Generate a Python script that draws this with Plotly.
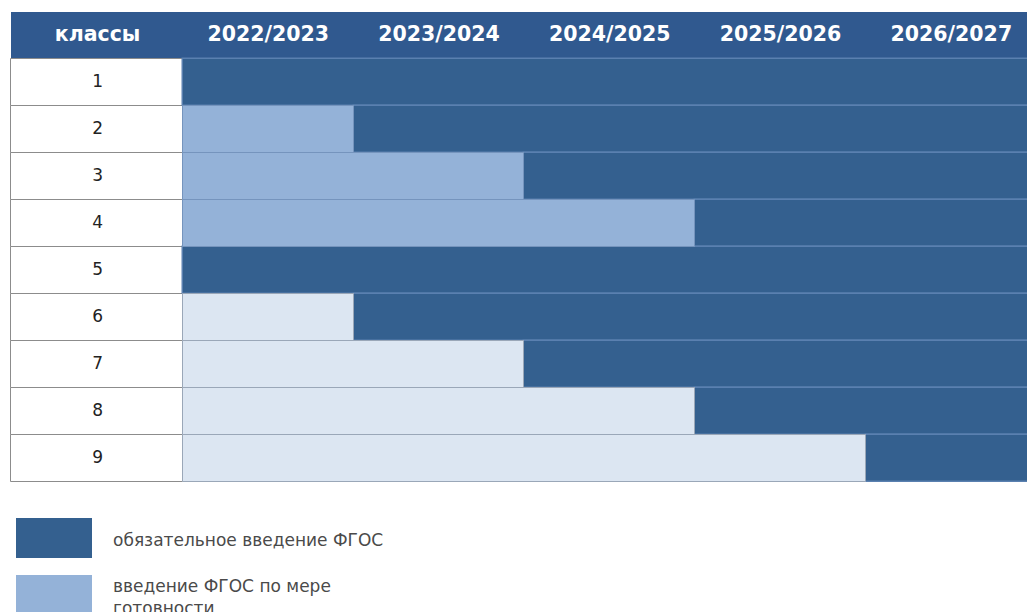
import plotly.graph_objects as go

# ---- data ----
classes = ["1", "2", "3", "4", "5", "6", "7", "8", "9"]
years = ["2022/2023", "2023/2024", "2024/2025", "2025/2026", "2026/2027"]
# number of school years with introduction "по мере готовности" before mandatory introduction
ready_years = [0, 1, 2, 3, 0, 1, 2, 3, 4]
ready_kind = ["none", "medium", "medium", "medium", "none", "light", "light", "light", "light"]
header_label = "классы"
legend_labels = ["обязательное введение ФГОС", "введение ФГОС по мере<br>готовности"]

# ---- styles ----
C_HEADER = "#30598f"
C_DARK = "#34608f"
C_MED = "#94b2d8"
C_LIGHT = "#dce6f2"
C_DARK_LINE = "#5a80b0"
FONT = "DejaVu Sans"

n_years = len(years)
row_y = [k + 1.5 for k in range(len(classes))]
col_left = -1.01

fig = go.Figure()

# header band
fig.add_trace(go.Bar(
    orientation="h", y=[0.5], base=[col_left], x=[n_years - col_left + 0.5], width=1,
    marker=dict(color=C_HEADER, line=dict(width=0)), hoverinfo="skip", showlegend=False))

# white class cells
fig.add_trace(go.Bar(
    orientation="h", y=row_y, base=[col_left] * len(classes), x=[-col_left] * len(classes), width=1,
    marker=dict(color="white", line=dict(color="#8c8c8c", width=1)), hoverinfo="skip", showlegend=False))

# mandatory introduction (dark)
fig.add_trace(go.Bar(
    orientation="h", y=row_y, base=ready_years, x=[n_years + 0.5 - r for r in ready_years], width=1,
    marker=dict(color=C_DARK, line=dict(color=C_DARK_LINE, width=1.5)), hoverinfo="skip", showlegend=False))

# introduction by readiness (medium / light)
for kind, color, lcol in [("medium", C_MED, "#7594bd"), ("light", C_LIGHT, "#9aa7b8")]:
    ys = [row_y[i] for i in range(len(classes)) if ready_kind[i] == kind]
    xs = [ready_years[i] for i in range(len(classes)) if ready_kind[i] == kind]
    fig.add_trace(go.Bar(
        orientation="h", y=ys, base=[0] * len(ys), x=xs, width=1,
        marker=dict(color=color, line=dict(color=lcol, width=1)), hoverinfo="skip", showlegend=False))

# header labels
fig.add_trace(go.Scatter(
    x=[-0.5] + [i + 0.5 for i in range(n_years)], y=[0.5] * (n_years + 1),
    mode="text", text=[header_label] + years,
    textfont=dict(family=FONT, size=20.5, color="white", weight="bold"),
    hoverinfo="skip", showlegend=False))

# class labels
fig.add_trace(go.Scatter(
    x=[-0.5] * len(classes), y=row_y, mode="text", text=classes,
    textfont=dict(family=FONT, size=17, color="#222222"),
    hoverinfo="skip", showlegend=False))

# ---- legend (drawn manually) ----
def px_x(p):
    return (p - 10) / 1017.0

def px_y(p):
    return (482 - p) / 470.0

shapes = [
    dict(type="rect", xref="paper", yref="paper", x0=px_x(16), x1=px_x(92), y0=px_y(558), y1=px_y(518),
         fillcolor=C_DARK, line=dict(width=0)),
    dict(type="rect", xref="paper", yref="paper", x0=px_x(16), x1=px_x(92), y0=px_y(620), y1=px_y(575),
         fillcolor=C_MED, line=dict(width=0)),
]
annotations = [
    dict(xref="paper", yref="paper", x=px_x(111), y=px_y(540), xanchor="left", yanchor="middle",
         text=legend_labels[0], showarrow=False, font=dict(family=FONT, size=17, color="#4a4a4a")),
    dict(xref="paper", yref="paper", x=px_x(111), y=px_y(574), xanchor="left", yanchor="top",
         text=legend_labels[1], showarrow=False, align="left",
         font=dict(family=FONT, size=17, color="#4a4a4a")),
]

fig.update_layout(
    width=1027, height=612, autosize=False,
    margin=dict(l=10, r=0, t=12, b=130, pad=0),
    paper_bgcolor="white", plot_bgcolor="white",
    barmode="overlay", bargap=0,
    shapes=shapes, annotations=annotations,
    xaxis=dict(range=[-1.013, 4.943], showgrid=False, zeroline=False, showticklabels=False,
               showline=False, fixedrange=True),
    yaxis=dict(range=[10, 0], showgrid=False, zeroline=False, showticklabels=False,
               showline=False, fixedrange=True),
)

fig.write_html("out.html", config={"displayModeBar": False},
               post_script="document.body.style.margin='0';")
